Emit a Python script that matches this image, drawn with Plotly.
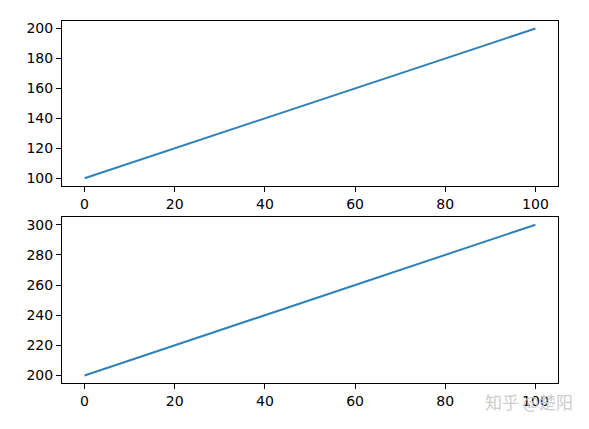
import plotly.graph_objects as go
from plotly.subplots import make_subplots

X_VALUES = [0, 100]
TOP_VALUES = [100, 200]
BOTTOM_VALUES = [200, 300]

TOP_TICKS = [100, 120, 140, 160, 180, 200]
BOTTOM_TICKS = [200, 220, 240, 260, 280, 300]
X_TICKS = [0, 20, 40, 60, 80, 100]

LINE_COLOR = '#2f82b8'
FONT_FAMILY = 'DejaVu Sans'
FONT_SIZE = 14

fig = make_subplots(rows=2, cols=1, vertical_spacing=0.087)

fig.add_trace(go.Scatter(x=X_VALUES, y=TOP_VALUES, mode='lines',
                         line=dict(color=LINE_COLOR, width=2)), row=1, col=1)
fig.add_trace(go.Scatter(x=X_VALUES, y=BOTTOM_VALUES, mode='lines',
                         line=dict(color=LINE_COLOR, width=2)), row=2, col=1)

axis_style = dict(showgrid=False, zeroline=False, showline=True, mirror=True,
                  linecolor='black', linewidth=1, ticks='outside', ticklen=5,
                  tickcolor='black', tickfont=dict(family=FONT_FAMILY, size=FONT_SIZE, color='black'))

fig.update_xaxes(range=[-5, 105], tickvals=X_TICKS, **axis_style)
fig.update_yaxes(range=[95, 205], tickvals=TOP_TICKS, row=1, col=1, **axis_style)
fig.update_yaxes(range=[195, 305], tickvals=BOTTOM_TICKS, row=2, col=1, **axis_style)

# the page puts the figure 8px in from the corner
fig.update_layout(
    width=573, height=413,
    margin=dict(l=54, r=23, t=13, b=31),
    plot_bgcolor='white', paper_bgcolor='white',
    showlegend=False,
    font=dict(family=FONT_FAMILY),
    yaxis=dict(domain=[0.545, 1]),
    yaxis2=dict(domain=[0, 0.458]),
)

# watermark
fig.add_annotation(text='知乎 @楚阳', xref='paper', yref='paper', x=1.034, y=-0.012,
                   xanchor='right', yanchor='top', showarrow=False,
                   font=dict(family='Noto Sans CJK SC', size=17, color='#cccccc'))

fig.write_html('out.html')
